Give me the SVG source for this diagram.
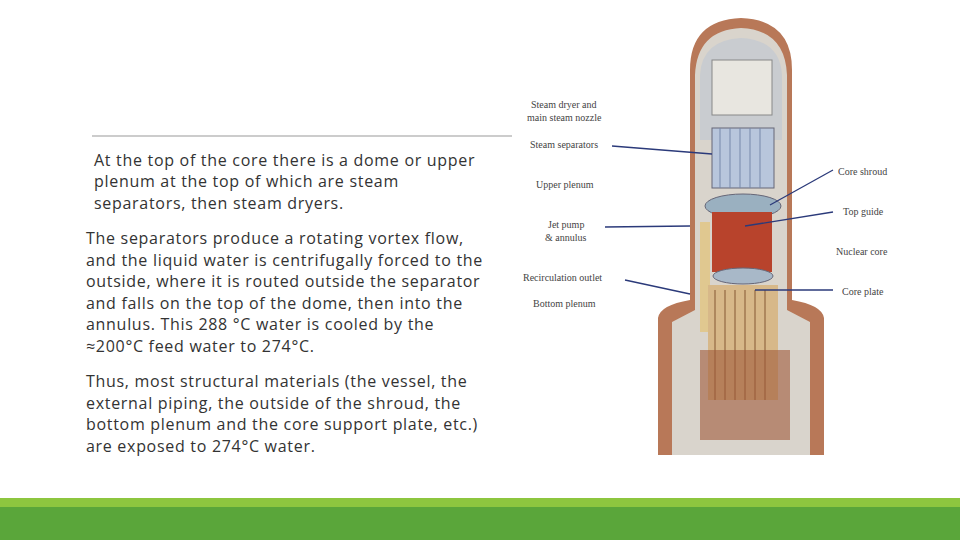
<svg xmlns="http://www.w3.org/2000/svg" width="960" height="540" viewBox="0 0 960 540">
<style>
.t{font-family:"Open Sans","Liberation Sans",sans-serif;font-size:16px;letter-spacing:0.7px;fill:#333}
.l{font-family:"Liberation Serif",serif;font-size:10px;fill:#444}
.a{stroke:#2b3a7a;stroke-width:1.3;fill:none}
</style>
<rect width="960" height="540" fill="#fff"/>
<rect x="0" y="498" width="960" height="9" fill="#8dc63f"/>
<rect x="0" y="507" width="960" height="33" fill="#5aa63a"/>
<line x1="92" y1="136" x2="512" y2="136" stroke="#999" stroke-width="1"/>
<g id="text">
<text class="t" x="94" y="166">At the top of the core there is a dome or upper</text>
<text class="t" x="94" y="187">plenum at the top of which are steam</text>
<text class="t" x="94" y="209">separators, then steam dryers.</text>
<text class="t" x="86" y="244">The separators produce a rotating vortex flow,</text>
<text class="t" x="86" y="266">and the liquid water is centrifugally forced to the</text>
<text class="t" x="86" y="287">outside, where it is routed outside the separator</text>
<text class="t" x="86" y="309">and falls on the top of the dome, then into the</text>
<text class="t" x="86" y="330">annulus.  This 288 °C water is cooled by the</text>
<text class="t" x="86" y="352">≈200°C feed water to 274°C.</text>
<text class="t" x="86" y="387">Thus, most structural materials (the vessel, the</text>
<text class="t" x="86" y="409">external piping, the outside of the shroud, the</text>
<text class="t" x="86" y="430">bottom plenum and the core support plate, etc.)</text>
<text class="t" x="86" y="452">are exposed to 274°C water.</text>
</g>
<g id="reactor">
<path d="M658 455 L658 318 Q660 305 690 300 L690 70 Q690 20 741 18 Q792 20 792 70 L792 300 Q822 305 824 318 L824 455 Z" fill="#b87858"/>
<path d="M672 455 L672 322 L695 310 L695 75 Q697 30 741 28 Q785 30 787 75 L787 310 L810 322 L810 455 Z" fill="#d9d4cc"/>
<path d="M700 75 Q702 40 741 38 Q780 40 782 75 L782 140 L700 140 Z" fill="#c9ccd0"/>
<rect x="712" y="60" width="60" height="55" fill="#e8e6e0" stroke="#888"/>
<rect x="712" y="128" width="62" height="60" fill="#b8c6dc" stroke="#667"/>
<g stroke="#7788aa" stroke-width="1"><line x1="720" y1="128" x2="720" y2="188"/><line x1="730" y1="128" x2="730" y2="188"/><line x1="740" y1="128" x2="740" y2="188"/><line x1="750" y1="128" x2="750" y2="188"/><line x1="760" y1="128" x2="760" y2="188"/></g>
<ellipse cx="743" cy="206" rx="38" ry="12" fill="#9ab0c0" stroke="#667"/>
<rect x="712" y="212" width="60" height="60" fill="#b8432c"/>
<rect x="700" y="222" width="10" height="110" fill="#e0c890"/>
<ellipse cx="743" cy="276" rx="30" ry="8" fill="#a8b8c8" stroke="#667"/>
<rect x="708" y="285" width="70" height="115" fill="#d7b889"/>
<g stroke="#a07850" stroke-width="1.5"><line x1="715" y1="290" x2="715" y2="400"/><line x1="725" y1="290" x2="725" y2="400"/><line x1="735" y1="290" x2="735" y2="400"/><line x1="745" y1="290" x2="745" y2="400"/><line x1="755" y1="290" x2="755" y2="400"/><line x1="765" y1="290" x2="765" y2="400"/></g>
<rect x="700" y="350" width="90" height="90" fill="#a05a3a" opacity="0.6"/>
</g>
<g id="connectors">
<line class="a" x1="612" y1="146" x2="712" y2="154"/>
<line class="a" x1="605" y1="227" x2="690" y2="226"/>
<line class="a" x1="625" y1="280" x2="690" y2="294"/>
<line class="a" x1="833" y1="170" x2="770" y2="205"/>
<line class="a" x1="833" y1="212" x2="745" y2="226"/>
<line class="a" x1="833" y1="290" x2="755" y2="290"/>
</g>
<g id="labels">
<text class="l" x="531" y="108">Steam dryer and</text>
<text class="l" x="527" y="121">main steam nozzle</text>
<text class="l" x="530" y="148">Steam separators</text>
<text class="l" x="536" y="188">Upper plenum</text>
<text class="l" x="548" y="228">Jet pump</text>
<text class="l" x="545" y="241">&amp; annulus</text>
<text class="l" x="523" y="281">Recirculation outlet</text>
<text class="l" x="533" y="307">Bottom plenum</text>
<text class="l" x="838" y="175">Core shroud</text>
<text class="l" x="843" y="215">Top guide</text>
<text class="l" x="836" y="255">Nuclear core</text>
<text class="l" x="842" y="295">Core plate</text>
</g>
</svg>
